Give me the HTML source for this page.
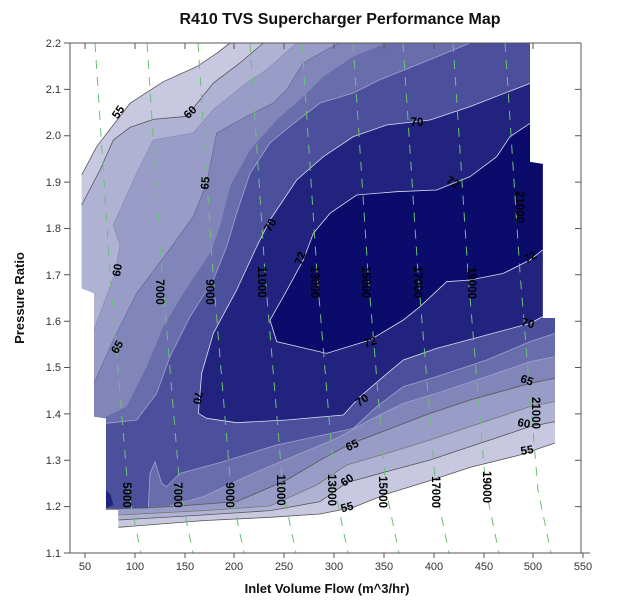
<!DOCTYPE html>
<html><head><meta charset="utf-8"><style>
html,body{margin:0;padding:0;background:#fff;}
svg{display:block;font-family:"Liberation Sans",Arial,sans-serif;}
</style></head><body>
<svg width="618" height="600" viewBox="0 0 618 600" xmlns="http://www.w3.org/2000/svg">
<rect width="618" height="600" fill="#fff"/>
<text x="340" y="24" text-anchor="middle" font-size="16" font-weight="bold" fill="#111">R410 TVS Supercharger Performance Map</text>
<g transform="translate(70,40) scale(0.33333)">
<polygon fill="#c8c9e1" points="35,405 80,320 130,255 180,190 280,125 380,80 440,40 480,9 1380,9 1380,366 1418,372 1418,834 1455,834 1455,1209 1350,1245 1200,1282 1080,1322 950,1362 850,1402 750,1422 600,1432 400,1442 145,1462 145,1410 108,1408 108,1135 72,1130 72,760 35,745"/>
<polygon fill="#b0b2d4" points="35,495 90,390 130,300 180,262 250,238 350,229 430,129 510,69 580,9 1380,9 1380,366 1418,372 1418,834 1455,834 1455,1145 1380,1160 1200,1220 1080,1260 950,1295 830,1328 750,1385 600,1412 400,1425 145,1440 145,1410 108,1408 108,1135 72,1130 72,760 35,745"/>
<polygon fill="#9a9cc8" points="680,9 590,89 530,129 430,209 370,279 250,300 200,400 130,555 150,615 135,700 72,870 72,1130 108,1135 108,1408 145,1410 145,1425 400,1412 600,1398 740,1335 830,1275 950,1240 1080,1200 1200,1160 1380,1100 1455,1085 1455,834 1418,834 1418,372 1380,366 1380,9"/>
<polygon fill="#8285b9" points="810,9 770,29 700,69 650,149 610,189 530,229 440,279 410,430 370,530 290,640 200,760 130,900 72,1030 72,1130 108,1135 108,1408 300,1400 500,1385 650,1320 760,1255 845,1210 950,1170 1080,1120 1200,1080 1380,1030 1455,1015 1455,834 1418,834 1418,372 1380,366 1380,9"/>
<polygon fill="#6a6dac" points="950,9 850,50 760,110 700,170 620,240 540,330 480,440 450,560 420,640 340,760 280,860 230,980 170,1100 108,1130 108,1405 300,1398 400,1370 550,1300 680,1245 800,1195 900,1140 1000,1090 1100,1060 1250,1010 1380,965 1455,950 1455,834 1418,834 1418,372 1380,366 1380,9"/>
<polygon fill="#4c4f9c" points="1200,9 1080,59 930,119 850,159 750,189 660,259 600,309 540,400 500,520 470,620 430,720 360,830 300,950 260,1060 200,1140 108,1150 108,1405 235,1405 240,1300 255,1265 275,1330 290,1340 330,1300 460,1265 620,1215 760,1185 850,1165 920,1100 1000,1040 1100,1010 1250,960 1380,905 1455,880 1455,834 1418,834 1418,372 1380,366 1380,9"/>
<polygon fill="#21237f" points="1380,130 1200,200 1080,240 950,255 850,290 760,350 680,420 600,540 560,620 500,750 430,880 395,1000 385,1120 410,1135 500,1148 650,1140 820,1125 870,1070 940,1010 1000,960 1100,925 1250,885 1380,850 1418,830 1418,372 1380,366"/>
<polygon fill="#0b0b6c" points="1380,250 1320,290 1280,350 1200,410 1100,450 980,455 860,465 780,520 730,580 700,660 640,770 600,840 620,905 770,940 900,900 950,870 1000,840 1050,800 1130,725 1200,720 1300,700 1380,660 1418,630 1418,372 1380,366"/>
<polygon fill="#21237f" points="108,1350 122,1365 130,1395 108,1405"/>
<g fill="none" stroke-width="2.4">
<polyline stroke="#555" points="35,405 80,320 130,255 180,190 280,125 380,80 440,40 480,9"/>
<polyline stroke="#555" points="35,495 90,390 130,300 180,262 250,238 350,229 430,129 510,69 580,9"/>
<polyline stroke="#8a8cb8" points="680,9 590,89 530,129 430,209 370,279 250,300 200,400 130,555 150,615 135,700 72,870"/>
<polyline stroke="#6a6c9a" points="810,9 770,29 700,69 650,149 610,189 530,229 440,279 410,430 370,530 290,640 200,760 130,900 72,1030"/>
<polyline stroke="#9fa2d0" points="1200,9 1080,59 930,119 850,159 750,189 660,259 600,309 540,400 500,520 470,620 430,720 360,830 300,950 260,1060 200,1140 108,1150"/>
<polyline stroke="#dcdcf0" points="1380,130 1200,200 1080,240 950,255 850,290 760,350 680,420 600,540 560,620 500,750 430,880 395,1000 385,1120 410,1135 500,1148 650,1140 820,1125 870,1070 940,1010 1000,960 1100,925 1250,885 1380,850 1418,830"/>
<polyline stroke="#dcdcf0" points="1380,250 1320,290 1280,350 1200,410 1100,450 980,455 860,465 780,520 730,580 700,660 640,770 600,840 620,905 770,940 900,900 950,870 1000,840 1050,800 1130,725 1200,720 1300,700 1380,660 1418,630"/>
<polyline stroke="#9fa2d0" points="235,1405 240,1300 255,1265 275,1330 290,1340 330,1300 460,1265 620,1215 760,1185 850,1165 920,1100 1000,1040 1100,1010 1250,960 1380,905 1455,880"/>
<polyline stroke="#9fa2d0" points="300,1398 400,1370 550,1300 680,1245 800,1195 900,1140 1000,1090 1100,1060 1250,1010 1380,965 1455,950"/>
<polyline stroke="#555" points="108,1408 300,1400 500,1385 650,1320 760,1255 845,1210 950,1170 1080,1120 1200,1080 1380,1030 1455,1015"/>
<polyline stroke="#777" points="145,1425 400,1412 600,1398 740,1335 830,1275 950,1240 1080,1200 1200,1160 1380,1100 1455,1085"/>
<polyline stroke="#555" points="145,1440 400,1425 600,1412 750,1385 830,1328 950,1295 1080,1260 1200,1220 1380,1160 1455,1145"/>
<polyline stroke="#555" points="145,1462 400,1442 600,1432 750,1422 850,1402 950,1362 1080,1322 1200,1282 1350,1245 1455,1209"/>
</g>
</g>
<g fill="none" stroke="#6cbf78" stroke-width="1" stroke-dasharray="9,8">
<polyline points="95,43 110,273 128,490 141,553"/>
<polyline points="147,43 162,273 180,490 193,553"/>
<polyline points="198,43 213,273 231,490 244,553"/>
<polyline points="250,43 265,273 283,490 296,553"/>
<polyline points="302,43 317,273 335,490 348,553"/>
<polyline points="353,43 368,273 386,490 399,553"/>
<polyline points="403,43 418,273 436,490 449,553"/>
<polyline points="453,43 468,273 486,490 499,553"/>
<polyline points="505,43 520,273 538,490 551,553"/>
</g>
<g font-size="11.5" font-weight="bold" fill="#000" text-anchor="middle">
<text transform="translate(127,495) rotate(90)" dy="4">5000</text>
<text transform="translate(178,495) rotate(90)" dy="4">7000</text>
<text transform="translate(230,495) rotate(90)" dy="4">9000</text>
<text transform="translate(281,490) rotate(90)" dy="4">11000</text>
<text transform="translate(332,490) rotate(90)" dy="4">13000</text>
<text transform="translate(383,492) rotate(90)" dy="4">15000</text>
<text transform="translate(436,492) rotate(90)" dy="4">17000</text>
<text transform="translate(487,487) rotate(90)" dy="4">19000</text>
<text transform="translate(160,292) rotate(90)" dy="4">7000</text>
<text transform="translate(210,292) rotate(90)" dy="4">9000</text>
<text transform="translate(262,282) rotate(90)" dy="4">11000</text>
<text transform="translate(315,282) rotate(90)" dy="4">13000</text>
<text transform="translate(366,282) rotate(90)" dy="4">15000</text>
<text transform="translate(418,282) rotate(90)" dy="4">17000</text>
<text transform="translate(472,283) rotate(90)" dy="4">19000</text>
<text transform="translate(520,207) rotate(90)" dy="4">21000</text>
<text transform="translate(536,413) rotate(90)" dy="4">21000</text>
</g>
<g font-size="11.5" font-weight="bold" fill="#000" text-anchor="middle">
<text transform="translate(118,112) rotate(-55)" dy="4">55</text>
<text transform="translate(190,112) rotate(-45)" dy="4">60</text>
<text transform="translate(205,183) rotate(-85)" dy="4">65</text>
<text transform="translate(270,225) rotate(-60)" dy="4">70</text>
<text transform="translate(300,258) rotate(-70)" dy="4">72</text>
<text transform="translate(417,122)" dy="4">70</text>
<text transform="translate(453,182) rotate(30)" dy="4">72</text>
<text transform="translate(530,257) rotate(-30)" dy="4">72</text>
<text transform="translate(528,323) rotate(15)" dy="4">70</text>
<text transform="translate(117,270) rotate(-80)" dy="4">60</text>
<text transform="translate(117,347) rotate(-60)" dy="4">65</text>
<text transform="translate(198,398) rotate(100)" dy="4">70</text>
<text transform="translate(370,342) rotate(-20)" dy="4">72</text>
<text transform="translate(362,400) rotate(-35)" dy="4">70</text>
<text transform="translate(352,445) rotate(-25)" dy="4">65</text>
<text transform="translate(347,480) rotate(-35)" dy="4">60</text>
<text transform="translate(347,507) rotate(-15)" dy="4">55</text>
<text transform="translate(527,380) rotate(20)" dy="4">65</text>
<text transform="translate(524,423) rotate(10)" dy="4">60</text>
<text transform="translate(527,450) rotate(-10)" dy="4">55</text>
</g>
<g stroke="#555" stroke-width="1" fill="none">
<line x1="70" y1="43" x2="581" y2="43"/>
<line x1="70" y1="43" x2="70" y2="553"/>
<line x1="581" y1="43" x2="581" y2="553"/>
<line x1="64" y1="553" x2="590" y2="553"/>
<path d="M64,43H70M64,89.4H70M64,135.7H70M64,182.1H70M64,228.5H70M64,274.8H70M64,321.2H70M64,367.5H70M64,413.9H70M64,460.3H70M64,506.6H70"/>
<path d="M581,89.4H575M581,135.7H575M581,182.1H575M581,228.5H575M581,274.8H575M581,321.2H575M581,367.5H575M581,413.9H575M581,460.3H575M581,506.6H575"/>
<path d="M85,43V49M135,43V49M185,43V49M234,43V49M284,43V49M334,43V49M384,43V49M434,43V49M484,43V49M533,43V49"/>
<path d="M85,553V558M135,553V558M185,553V558M234,553V558M284,553V558M334,553V558M384,553V558M434,553V558M484,553V558M533,553V558M583,553V558"/>
</g>
<g font-size="11" fill="#333" text-anchor="end">
<text x="61" y="47">2.2</text><text x="61" y="93">2.1</text><text x="61" y="139">2.0</text>
<text x="61" y="186">1.9</text><text x="61" y="232">1.8</text><text x="61" y="279">1.7</text>
<text x="61" y="325">1.6</text><text x="61" y="371">1.5</text><text x="61" y="418">1.4</text>
<text x="61" y="464">1.3</text><text x="61" y="510">1.2</text><text x="61" y="557">1.1</text>
</g>
<g font-size="11" fill="#333" text-anchor="middle">
<text x="85" y="570">50</text><text x="135" y="570">100</text><text x="185" y="570">150</text>
<text x="234" y="570">200</text><text x="284" y="570">250</text><text x="334" y="570">300</text>
<text x="384" y="570">350</text><text x="434" y="570">400</text><text x="484" y="570">450</text>
<text x="533" y="570">500</text><text x="583" y="570">550</text>
</g>
<text x="327" y="593" text-anchor="middle" font-size="13" font-weight="bold" fill="#111">Inlet Volume Flow (m^3/hr)</text>
<text transform="translate(24,298) rotate(-90)" text-anchor="middle" font-size="13" font-weight="bold" fill="#111">Pressure Ratio</text>
</svg>
</body></html>
